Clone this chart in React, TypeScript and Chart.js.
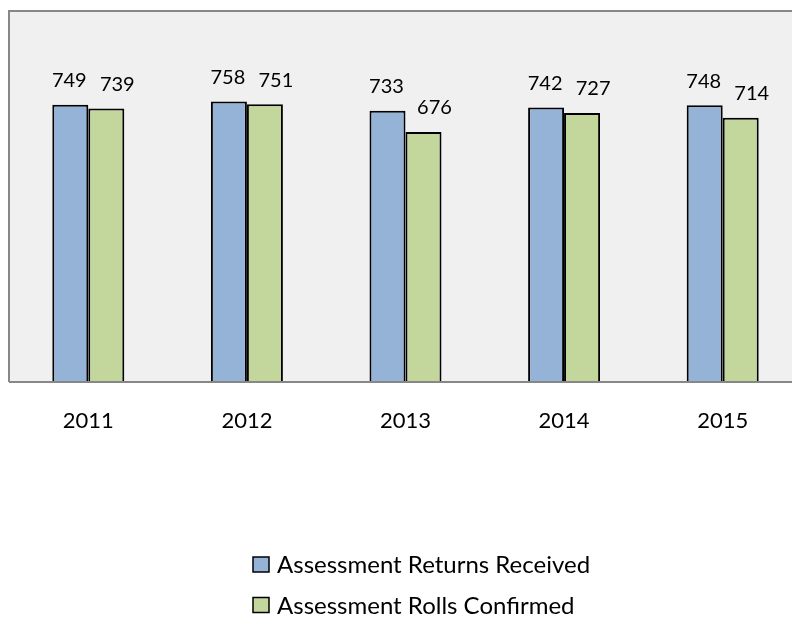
import React, { useEffect, useRef } from "react";
import { Chart, registerables } from "chart.js";

Chart.register(...registerables);

const categories = ["2011", "2012", "2013", "2014", "2015"];
const returnsReceived = [749, 758, 733, 742, 748];
const rollsConfirmed = [739, 751, 676, 727, 714];
const seriesNames = ["Assessment Returns Received", "Assessment Rolls Confirmed"];
const seriesColors = ["#95b3d7", "#c3d69b"];

const FONT = "Lato, 'Open Sans', sans-serif";
const LABEL_SHIFT = [-1, 11];

const plotBackground = {
  id: "plotBackground",
  beforeDraw(chart: any) {
    const { ctx, chartArea } = chart;
    ctx.save();
    ctx.fillStyle = "#f0f0f0";
    ctx.fillRect(chartArea.left, chartArea.top - 1, chartArea.right - chartArea.left + 40, chartArea.bottom - chartArea.top + 1);
    ctx.strokeStyle = "#878787";
    ctx.lineWidth = 2;
    ctx.beginPath();
    ctx.moveTo(chartArea.right + 40, chartArea.top - 1);
    ctx.lineTo(chartArea.left, chartArea.top - 1);
    ctx.lineTo(chartArea.left, chartArea.bottom);
    ctx.stroke();
    ctx.restore();
  },
  afterDatasetsDraw(chart: any) {
    const { ctx, chartArea } = chart;
    ctx.save();
    ctx.strokeStyle = "#878787";
    ctx.lineWidth = 2;
    ctx.beginPath();
    ctx.moveTo(chartArea.left, chartArea.bottom);
    ctx.lineTo(chartArea.right + 40, chartArea.bottom);
    ctx.stroke();
    // data labels
    ctx.fillStyle = "#000";
    ctx.font = `20px ${FONT}`;
    ctx.textAlign = "center";
    ctx.textBaseline = "middle";
    chart.data.datasets.forEach((ds: any, i: number) => {
      const meta = chart.getDatasetMeta(i);
      meta.data.forEach((el: any, j: number) => {
        ctx.fillText(String(ds.data[j]), el.x + LABEL_SHIFT[i], el.y - 24);
      });
    });
    ctx.restore();
  },
  afterDraw(chart: any) {
    const { ctx } = chart;
    ctx.save();
    const rows = [564.5, 605];
    chart.data.datasets.forEach((ds: any, i: number) => {
      const cy = rows[i];
      ctx.fillStyle = ds.backgroundColor;
      ctx.fillRect(253, cy - 7.5, 16, 15);
      ctx.strokeStyle = "#000";
      ctx.lineWidth = 1.5;
      ctx.strokeRect(253, cy - 7.5, 16, 15);
      ctx.fillStyle = "#000";
      ctx.font = `24px ${FONT}`;
      ctx.textAlign = "left";
      ctx.textBaseline = "middle";
      ctx.fillText(ds.label, 277, cy + 1);
    });
    ctx.restore();
  },
};

export default function App() {
  const ref = useRef<HTMLCanvasElement | null>(null);
  useEffect(() => {
    if (!ref.current) return;
    const chart = new Chart(ref.current, {
      type: "bar",
      data: {
        labels: categories,
        datasets: [
          {
            label: seriesNames[0],
            data: returnsReceived,
            backgroundColor: seriesColors[0],
            borderColor: "#000",
            borderWidth: 2,
            categoryPercentage: 0.454,
            barPercentage: 1,
          },
          {
            label: seriesNames[1],
            data: rollsConfirmed,
            backgroundColor: seriesColors[1],
            borderColor: "#000",
            borderWidth: 2,
            categoryPercentage: 0.454,
            barPercentage: 1,
          },
        ],
      },
      options: {
        responsive: false,
        animation: false,
        layout: { padding: { left: 9, right: 28, top: 12, bottom: 0 } },
        plugins: {
          legend: { display: false },
          tooltip: { enabled: false },
        },
        scales: {
          y: { display: false, min: 0, max: 1000 },
          x: {
            grid: { display: false, drawTicks: false },
            border: { display: false },
            ticks: {
              color: "#000",
              font: { family: FONT, size: 22 },
              padding: 26,
            },
            afterFit: (scale: any) => {
              scale.height = 236;
            },
          },
        },
      },
      plugins: [plotBackground],
    });
    return () => chart.destroy();
  }, []);
  return (
    <div style={{ position: "fixed", left: 0, top: 0, width: 792, height: 618, overflow: "hidden", background: "#fff" }}>
      <canvas ref={ref} width={830} height={618} style={{ width: 830, height: 618, display: "block" }} />
    </div>
  );
}
